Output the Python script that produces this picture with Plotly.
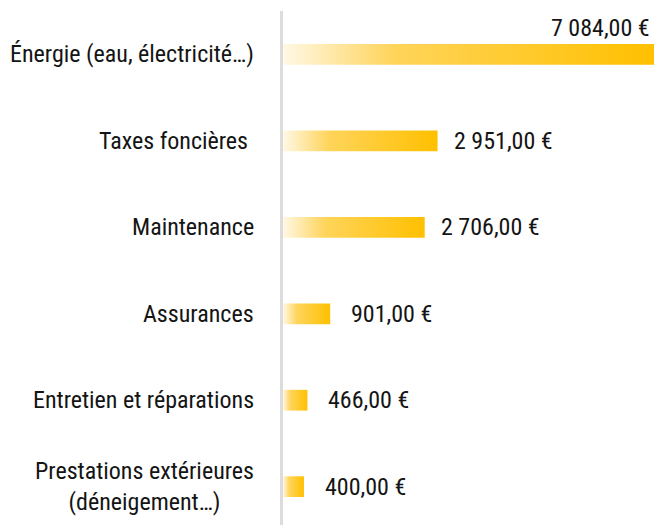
import plotly.graph_objects as go

categories = [
    "Énergie (eau, électricité…)",
    "Taxes foncières\u00a0",
    "Maintenance",
    "Assurances",
    "Entretien et réparations",
    "Prestations extérieures<br>(déneigement…)",
]
values = [7084, 2951, 2706, 901, 466, 400]
value_labels = ["7 084,00 €", "2 951,00 €", "2 706,00 €", "901,00 €", "466,00 €", "400,00 €"]

FONT = "Roboto Condensed, Liberation Sans Narrow, Roboto, sans-serif"
TEXT = "#141414"
FSIZE = 24
half = 0.12
gradient = [[0, "#FFF8E6"], [0.3, "#FFD45A"], [1, "#FFC000"]]

fig = go.Figure()
for i, v in enumerate(values):
    fig.add_trace(go.Scatter(
        x=[0, v, v, 0, 0],
        y=[i - half, i - half, i + half, i + half, i - half],
        mode="lines",
        line=dict(width=0),
        fill="toself",
        fillgradient=dict(type="horizontal", colorscale=gradient),
        hoverinfo="skip",
        showlegend=False,
    ))

# category labels (centre-aligned lines, right-anchored block)
for i, cat in enumerate(categories):
    fig.add_annotation(x=0, y=i, text=cat, showarrow=False, xanchor="right",
                       yanchor="middle", align="center", xshift=-27,
                       font=dict(family=FONT, size=FSIZE, color=TEXT))

for i, (v, lab) in enumerate(zip(values, value_labels)):
    if i == 0:
        fig.add_annotation(x=v, y=i, text=lab, showarrow=False, xanchor="right",
                           yanchor="bottom", yshift=10, xshift=-2,
                           font=dict(family=FONT, size=FSIZE, color=TEXT))
    else:
        fig.add_annotation(x=v, y=i, text=lab, showarrow=False, xanchor="left",
                           yanchor="middle", xshift=14 if v >= 1000 else 19,
                           font=dict(family=FONT, size=FSIZE, color=TEXT))

fig.update_xaxes(range=[0, max(values)], visible=False, fixedrange=True)
fig.update_yaxes(
    range=[5.49, -0.503],
    tickmode="array",
    tickvals=list(range(len(categories))),
    showticklabels=False,
    showgrid=False,
    zeroline=False,
    showline=True,
    linecolor="#DCDCDC",
    linewidth=3,
    ticks="",
)
fig.update_layout(
    width=670,
    height=525,
    margin=dict(l=275, r=24, t=3, b=4),
    paper_bgcolor="white",
    plot_bgcolor="white",
    font=dict(family=FONT, size=FSIZE, color=TEXT),
)
fig.write_html("out.html")
